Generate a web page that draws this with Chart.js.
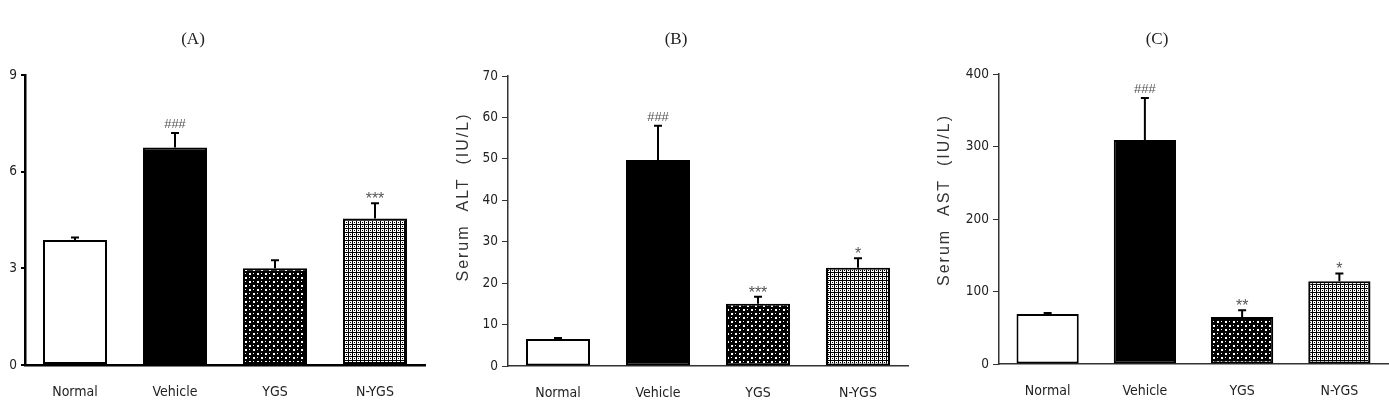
<!DOCTYPE html>
<html>
<head>
<meta charset="utf-8">
<script src="https://cdn.jsdelivr.net/npm/chart.js@4.4.1/dist/chart.umd.min.js"></script>
<style>
  body { margin: 0; background: #fff; width: 1389px; height: 408px; overflow: hidden; position: relative; }
  canvas { position: absolute; top: 0; }
</style>
</head>
<body>
<canvas id="cA" width="440" height="408" style="left:0px"></canvas>
<canvas id="cB" width="470" height="408" style="left:450px"></canvas>
<canvas id="cC" width="469" height="408" style="left:920px"></canvas>
<script>
// groups on the x axis
const groups = ['Normal', 'Vehicle', 'YGS', 'N-YGS'];

// (A) ratio, no axis title
const ratioMean = [3.88, 6.75, 3.0, 4.55];
const ratioErr = [0.08, 0.45, 0.25, 0.47];
const ratioMarks = ['', '###', '', '***'];
const ratioTicks = { min: 0, max: 9, step: 3 };

// (B) serum ALT
const altMean = [6.5, 49.7, 15.0, 23.7];
const altErr = [0.25, 8.3, 1.7, 2.3];
const altMarks = ['', '###', '***', '*'];
const altTicks = { min: 0, max: 70, step: 10 };

// (C) serum AST
const astMean = [69, 309, 65, 114];
const astErr = [1.5, 58, 9, 11];
const astMarks = ['', '###', '**', '*'];
const astTicks = { min: 0, max: 400, step: 100 };

const NARROW = '"DejaVu Sans Condensed", "Liberation Sans Narrow", Arial, sans-serif';
const SANS = '"Liberation Sans", Arial, sans-serif';

function makePattern(size, draw) {
  const c = document.createElement('canvas');
  c.width = c.height = size;
  const g = c.getContext('2d');
  draw(g);
  return g.createPattern(c, 'repeat');
}

// black with scattered white dots (YGS)
const dotFill = makePattern(8, g => {
  g.fillStyle = '#000'; g.fillRect(0, 0, 8, 8);
  g.fillStyle = '#fff';
  g.fillRect(1, 1, 2, 2); g.fillRect(5, 5, 2, 2);
  g.fillRect(5, 1, 1, 1); g.fillRect(1, 5, 1, 1);
});
// fine checker (N-YGS)
const gridFill = makePattern(4, g => {
  g.fillStyle = '#fff'; g.fillRect(0, 0, 4, 4);
  g.fillStyle = '#000';
  g.fillRect(0, 0, 4, 1); g.fillRect(0, 0, 1, 4);
  g.fillRect(2, 2, 1, 1);
});
const barFills = ['#fff', '#000', dotFill, gridFill];

const errPlugin = {
  id: 'errbars',
  afterDatasetsDraw(chart, args, opts) {
    const { ctx } = chart;
    const y = chart.scales.y;
    const vals = chart.data.datasets[0].data;
    chart.getDatasetMeta(0).data.forEach((bar, i) => {
      const top = y.getPixelForValue(vals[i] + opts.err[i]);
      ctx.save();
      ctx.strokeStyle = '#000';
      ctx.lineWidth = opts.lineWidth;
      ctx.beginPath();
      ctx.moveTo(bar.x, bar.y);
      ctx.lineTo(bar.x, top);
      ctx.moveTo(bar.x - 4, top);
      ctx.lineTo(bar.x + 4, top);
      ctx.stroke();
      const m = opts.marks[i];
      if (m) {
        ctx.fillStyle = '#555';
        ctx.textAlign = 'center';
        ctx.textBaseline = 'alphabetic';
        if (m.includes('*')) {
          ctx.font = '16px ' + SANS;
          ctx.fillText(m, bar.x, top + 1);
        } else {
          ctx.font = '13px ' + SANS;
          ctx.fillText(m, bar.x, top - 5);
        }
      }
      ctx.restore();
    });
  }
};

const panelTitle = {
  id: 'panelTitle',
  afterDraw(chart, args, opts) {
    const { ctx } = chart;
    ctx.save();
    ctx.fillStyle = '#222';
    ctx.font = '17px "Liberation Serif", "DejaVu Serif", serif';
    ctx.textAlign = 'center';
    ctx.textBaseline = 'middle';
    ctx.fillText(opts.text, opts.x, 40);
    ctx.restore();
  }
};

// spaced-out rotated axis title, nudged up like the original
const spacedTitle = {
  id: 'spacedTitle',
  beforeDraw(chart, args, opts) {
    const s = chart.scales.y;
    if (s._wrapped) return;
    const orig = s.drawTitle.bind(s);
    s.drawTitle = function () {
      const ctx = chart.ctx;
      ctx.save();
      ctx.letterSpacing = opts.spacing || '0px';
      ctx.translate(0, opts.shift || 0);
      orig();
      ctx.restore();
    };
    s._wrapped = true;
  }
};

function makeChart(id, cfg) {
  return new Chart(document.getElementById(id), {
    type: 'bar',
    data: {
      labels: groups,
      datasets: [{
        data: cfg.mean,
        backgroundColor: barFills,
        borderColor: '#000',
        borderWidth: 2,
        borderSkipped: false,
        barPercentage: 0.64,
        categoryPercentage: 1
      }]
    },
    options: {
      responsive: false,
      animation: false,
      layout: { padding: cfg.pad },
      plugins: {
        legend: { display: false },
        tooltip: { enabled: false },
        errbars: { err: cfg.err, marks: cfg.marks, lineWidth: 2 },
        panelTitle: { text: cfg.title, x: cfg.titleX },
        spacedTitle: { spacing: '2px', shift: cfg.titleShift || 0 }
      },
      scales: {
        x: {
          grid: { display: false, drawTicks: false },
          border: { display: true, color: cfg.axisColor, width: cfg.axisWidth },
          ticks: { color: '#222', font: { family: NARROW, size: 14 }, padding: 19 },
          afterFit(s) { s.height = cfg.xHeight; }
        },
        y: {
          min: cfg.ticks.min,
          max: cfg.ticks.max,
          ticks: { stepSize: cfg.ticks.step, color: '#222', font: { family: NARROW, size: 13.5 }, padding: 4 },
          grid: { display: true, drawOnChartArea: false, drawTicks: true, tickLength: cfg.tickLen, color: cfg.axisColor, lineWidth: cfg.axisWidth - 0.5 },
          border: { display: true, color: cfg.axisColor, width: cfg.axisWidth },
          title: cfg.yTitle ? {
            display: true, text: cfg.yTitle, color: '#333',
            font: { family: SANS, size: 16 }, padding: { top: cfg.yTitlePad, bottom: 0 }
          } : { display: false },
          afterFit(s) { s.width = cfg.yWidth; }
        }
      }
    },
    plugins: [errPlugin, panelTitle, spacedTitle]
  });
}

makeChart('cA', {
  mean: ratioMean, err: ratioErr, marks: ratioMarks, ticks: ratioTicks,
  title: '(A)', titleX: 193,
  pad: { left: 0, right: 15, top: 75, bottom: 0 },
  yWidth: 25, xHeight: 43, tickLen: 4, axisColor: '#000', axisWidth: 2.5
});

makeChart('cB', {
  mean: altMean, err: altErr, marks: altMarks, ticks: altTicks,
  title: '(B)', titleX: 226,
  yTitle: 'Serum  ALT  (IU/L)', yTitlePad: 4, titleShift: -24,
  pad: { left: 0, right: 12, top: 76, bottom: 0 },
  yWidth: 58, xHeight: 42, tickLen: 6, axisColor: '#333', axisWidth: 1.5
});

makeChart('cC', {
  mean: astMean, err: astErr, marks: astMarks, ticks: astTicks,
  title: '(C)', titleX: 237,
  yTitle: 'Serum  AST  (IU/L)', yTitlePad: 15, titleShift: -19,
  pad: { left: 0, right: 1, top: 74, bottom: 0 },
  yWidth: 79, xHeight: 44, tickLen: 6, axisColor: '#333', axisWidth: 1.5
});
</script>
</body>
</html>
